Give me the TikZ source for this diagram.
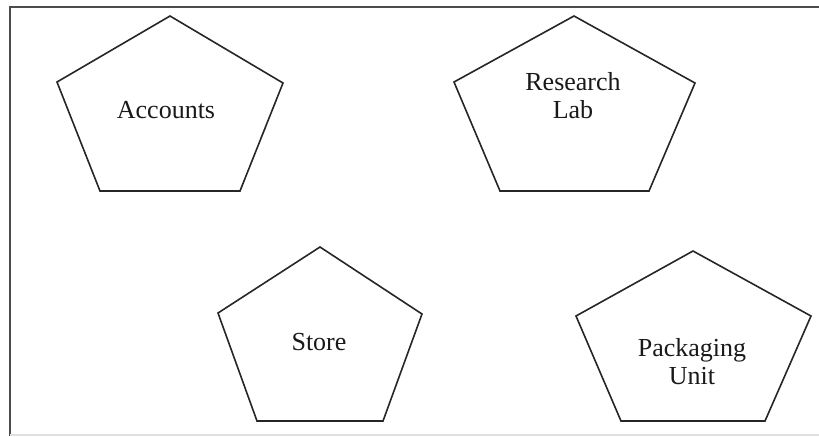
\documentclass[tikz,border=0pt]{standalone}
\usepackage{fontspec}
\setmainfont{Liberation Serif}
\begin{document}
\begin{tikzpicture}[x=0.5pt,y=-0.5pt,
  pent/.style={draw=black!85,line width=0.8pt,line join=miter},
  lbl/.style={align=center,font=\fontsize{13}{14}\selectfont,inner sep=0pt,text=black!90},
  frame/.style={draw=black!70,line width=1pt}]
\useasboundingbox (0,0) rectangle (819,436);
% frame
\draw[frame] (9.5,436) -- (9.5,6.5) -- (819,6.5);
\draw[draw=black!12,line width=0.6pt] (9.5,435) -- (819,435);
% Accounts
\draw[pent] (170,16) -- (283,83) -- (240,191) -- (100,191) -- (57,82) -- cycle;
\node[lbl] (accounts) at (166,110) {Accounts};
% Research Lab
\draw[pent] (574,16) -- (695,83) -- (649,191) -- (500,191) -- (454,82) -- cycle;
\node[lbl] (research) at (573,96) {Research\\Lab};
% Store
\draw[pent] (320,247) -- (422,314) -- (383,421) -- (257,421) -- (218,313) -- cycle;
\node[lbl] (store) at (319,342) {Store};
% Packaging Unit
\draw[pent] (693,251) -- (811,316) -- (765,421) -- (621,421) -- (576,316) -- cycle;
\node[lbl] (packaging) at (692,362) {Packaging\\Unit};
\end{tikzpicture}
\end{document}
